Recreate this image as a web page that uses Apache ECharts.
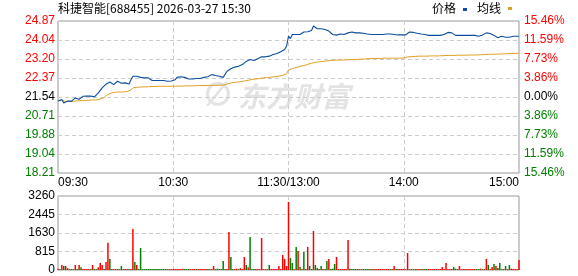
<!DOCTYPE html>
<html>
<head>
<meta charset="utf-8">
<script src="https://cdn.jsdelivr.net/npm/echarts@6/dist/echarts.min.js"></script>
<style>
html,body{margin:0;padding:0;background:#fff;}
#c{width:578px;height:276px;}
</style>
</head>
<body>
<div id="c"></div>
<script>
// ---- data ----
var title = '科捷智能[688455] 2026-03-27 15:30';
var legendNames = ['价格', '均线'];
var timeLabels = ['09:30', '10:30', '11:30/13:00', '14:00', '15:00'];
var priceTicks = ['18.21','19.04','19.88','20.71','21.54','22.37','23.20','24.04','24.87'];
var pctTicks = ['15.46%','11.59%','7.73%','3.86%','0.00%','3.86%','7.73%','11.59%','15.46%'];
var volTicks = ['0','815','1630','2445','3260'];
var basePrice = 21.54;
var priceMin = 18.21, priceMax = 24.87;
var pctMax = 15.46;
var volMax = 3260;

var price = [
21.36,21.40,21.43,21.28,21.30,21.36,21.35,21.36,21.39,21.50,
21.46,21.44,21.48,21.57,21.57,21.58,21.60,21.58,21.60,21.55,
21.52,21.72,21.75,21.94,21.96,22.10,22.16,22.20,22.23,22.08,
22.15,22.23,22.18,22.14,22.10,22.16,22.20,22.11,22.30,22.45,
22.45,22.45,22.43,22.40,22.38,22.38,22.38,22.38,22.33,22.26,
22.26,22.26,22.26,22.26,22.26,22.26,22.24,22.23,22.23,22.24,
22.25,22.30,22.40,22.42,22.43,22.45,22.40,22.36,22.33,22.33,
22.33,22.35,22.35,22.33,22.35,22.38,22.40,22.45,22.43,22.45,
22.52,22.50,22.48,22.45,22.45,22.43,22.40,22.40,22.67,22.70,
22.78,22.82,22.85,22.89,22.89,22.92,22.96,23.00,23.10,23.18,
23.18,23.16,23.14,23.14,23.22,23.30,23.30,23.32,23.30,23.33,
23.33,23.37,23.40,23.45,23.45,23.48,23.52,23.58,23.62,23.77,
24.21,
24.10,24.28,24.26,24.28,24.28,24.28,24.33,24.39,24.37,
24.40,24.43,24.45,24.65,24.58,24.53,24.53,24.53,24.53,24.50,
24.47,24.43,24.38,24.28,24.21,24.25,24.32,24.30,24.30,24.28,
24.28,24.35,24.43,24.39,24.37,24.35,24.37,24.35,24.35,24.33,
24.30,24.30,24.28,24.28,24.25,24.28,24.28,24.28,24.28,24.28,
24.28,24.30,24.35,24.30,24.35,24.28,24.24,24.26,24.26,24.26,
24.26,24.26,24.24,24.39,24.33,24.37,24.33,24.33,24.33,24.30,
24.30,24.28,24.24,24.24,24.24,24.24,24.24,24.24,24.24,24.24,
24.24,24.28,24.33,24.37,24.37,24.35,24.33,24.24,24.24,24.24,
24.24,24.24,24.24,24.24,24.24,24.24,24.24,24.24,24.22,24.20,
24.22,24.26,24.30,24.35,24.30,24.32,24.30,24.24,24.24,24.14,
24.16,24.20,24.16,24.16,24.18,24.16,24.20,24.20,24.20,24.20,24.20
];

var avgPrice = [
21.36,21.38,21.40,21.36,21.34,21.34,21.34,21.34,21.35,21.36,
21.37,21.37,21.38,21.38,21.39,21.39,21.40,21.40,21.41,21.41,
21.41,21.43,21.45,21.48,21.52,21.57,21.66,21.70,21.72,21.74,
21.75,21.75,21.76,21.76,21.76,21.77,21.78,21.79,21.85,21.94,
21.95,21.96,21.97,21.98,21.98,21.98,21.99,21.99,21.99,22.00,
22.00,22.00,22.00,22.01,22.01,22.01,22.01,22.01,22.01,22.01,
22.01,22.01,22.02,22.02,22.02,22.02,22.02,22.03,22.03,22.03,
22.03,22.03,22.03,22.04,22.04,22.04,22.04,22.04,22.04,22.05,
22.05,22.05,22.05,22.05,22.06,22.06,22.07,22.07,22.11,22.14,
22.16,22.17,22.18,22.19,22.20,22.21,22.22,22.24,22.25,22.27,
22.30,22.31,22.32,22.33,22.34,22.35,22.37,22.38,22.38,22.39,
22.40,22.41,22.42,22.43,22.44,22.45,22.47,22.49,22.52,22.56,
22.72,
22.76,22.79,22.81,22.83,22.86,22.88,22.90,22.92,22.94,
22.97,23.00,23.02,23.04,23.06,23.07,23.08,23.09,23.10,23.11,
23.12,23.13,23.14,23.14,23.15,23.15,23.16,23.16,23.16,23.17,
23.17,23.17,23.18,23.18,23.18,23.19,23.19,23.19,23.20,23.20,
23.21,23.21,23.22,23.22,23.23,23.23,23.23,23.23,23.23,23.23,
23.24,23.24,23.24,23.24,23.24,23.24,23.24,23.24,23.24,23.24,
23.25,23.26,23.30,23.31,23.31,23.32,23.32,23.32,23.33,23.33,
23.33,23.33,23.33,23.34,23.34,23.34,23.34,23.34,23.34,23.35,
23.35,23.35,23.36,23.36,23.36,23.36,23.36,23.36,23.37,23.37,
23.37,23.37,23.37,23.37,23.38,23.38,23.38,23.38,23.38,23.38,
23.39,23.39,23.40,23.40,23.41,23.41,23.41,23.42,23.42,23.42,
23.42,23.43,23.43,23.43,23.44,23.45,23.45,23.45,23.45,23.45,23.46
];

var volume = [
50,40,220,176,176,80,40,40,40,220,
40,220,117,40,40,40,40,40,220,40,
40,120,308,220,40,352,1204,484,40,40,
40,40,40,176,40,40,40,40,40,1805,
352,220,40,969,40,40,40,40,40,40,
40,40,40,40,40,40,40,40,40,40,
40,40,40,40,40,60,40,40,40,40,
40,40,40,40,40,40,40,40,40,40,
40,176,40,60,40,40,396,40,40,1673,
572,40,40,60,40,80,40,572,220,120,
1453,40,40,40,40,40,1409,40,40,40,
220,40,40,40,40,176,40,660,484,176,
2995,
528,308,40,1013,837,132,40,793,40,
1013,176,40,1717,220,88,40,176,40,40,
396,484,40,60,264,572,40,40,40,40,
40,1321,60,40,40,40,40,40,40,40,
40,40,40,40,40,40,40,40,40,40,
40,40,40,40,40,176,40,40,40,40,
40,40,748,40,40,40,40,40,40,40,
40,40,40,40,40,40,40,40,40,40,
132,40,308,40,40,40,132,60,40,176,
40,40,40,40,40,40,40,40,40,40,
60,40,40,484,220,40,132,264,176,88,
308,40,40,176,40,220,60,40,40,40,440
];

// u = up (red), d = down (green)
var volDir = [
'u','d','u','d','u','u','d','d','d','u',
'd','u','d','u','u','u','u','d','u','d',
'd','u','u','u','d','u','u','d','u','d',
'u','u','d','d','d','u','u','d','u','u',
'd','u','d','d','d','d','d','d','d','d',
'd','d','d','d','d','d','d','d','u','u',
'u','u','u','u','u','u','d','d','d','u',
'u','u','d','u','u','u','u','u','d','u',
'u','u','d','d','d','d','d','d','u','u',
'd','d','u','u','d','u','u','u','d','u',
'd','d','d','u','u','u','u','u','d','u',
'd','u','u','u','u','u','u','u','u','u',
'u',
'd','d','u','d','u','d','u','d','u',
'u','d','d','u','d','d','u','d','u','d',
'd','u','d','d','d','u','u','u','u','u',
'u','u','d','d','d','d','u','d','u','d',
'd','d','d','u','d','u','u','u','u','u',
'u','u','u','d','u','u','d','u','u','u',
'u','u','u','d','d','u','d','u','u','d',
'u','d','d','u','u','u','u','u','u','u',
'u','u','u','u','u','d','d','d','u','u',
'u','u','u','u','u','u','u','u','d','d',
'u','d','u','u','d','u','u','d','u','d',
'd','u','d','d','u','d','u','u','u','u','u'
];

// ---- chart ----
var RED = '#ff0000', GREEN = '#008000', BLUE = '#0b4d9e', ORANGE = '#e0a020';
var FONT = '"Liberation Sans", Arial, sans-serif';
var CJK = '"Noto Sans CJK SC", sans-serif';

var priceData = price.map(function (v, i) { return [i, v]; });
var avgData = avgPrice.map(function (v, i) { return [i, v]; });
var volData = volume.map(function (v, i) {
  return { value: [i, v], itemStyle: { color: volDir[i] === 'u' ? RED : GREEN } };
});

var dashed = { show: true, lineStyle: { color: '#cccccc', type: [4, 3], width: 1 } };

var chart = echarts.init(document.getElementById('c'), null, { renderer: 'canvas' });
chart.setOption({
  animation: false,
  backgroundColor: '#ffffff',
  graphic: [
    { type: 'text', left: 58, top: 2, z: 10,
      style: { text: title, font: '12px ' + CJK, fill: '#000' } },
    { type: 'text', left: 432, top: 2, z: 10,
      style: { text: legendNames[0], font: '12px ' + CJK, fill: '#000' } },
    { type: 'rect', left: 463, top: 8, z: 10, shape: { width: 4, height: 3 }, style: { fill: BLUE } },
    { type: 'text', left: 477, top: 2, z: 10,
      style: { text: legendNames[1], font: '12px ' + CJK, fill: '#000' } },
    { type: 'rect', left: 508, top: 7, z: 10, shape: { width: 4, height: 3 }, style: { fill: ORANGE } },
    { type: 'text', left: 238, top: 82, z: 0,
      style: { text: '东方财富', font: 'italic bold 28px ' + CJK, fill: '#e3e3e3' } },
    { type: 'text', left: 204, top: 80, z: 0,
      style: { text: '∅', font: 'bold 32px ' + FONT, fill: '#e3e3e3' } }
  ],
  grid: [
    { left: 58, top: 21, width: 461, height: 152, show: true, borderColor: '#999999', borderWidth: 1, backgroundColor: 'transparent' },
    { left: 58, top: 196, width: 461, height: 74, show: true, borderColor: '#999999', borderWidth: 1, backgroundColor: 'transparent' }
  ],
  xAxis: [
    { type: 'value', gridIndex: 0, min: 0, max: 240, interval: 60,
      axisLine: { show: false }, axisTick: { show: false },
      splitLine: dashed,
      axisLabel: { show: true, margin: 4, fontFamily: FONT, fontSize: 12, color: '#000',
        alignMinLabel: 'left', alignMaxLabel: 'right',
        formatter: function (v) { return timeLabels[Math.round(v / 60)]; } } },
    { type: 'value', gridIndex: 1, min: 0, max: 240, interval: 60,
      axisLine: { show: false }, axisTick: { show: false },
      splitLine: dashed, axisLabel: { show: false } }
  ],
  yAxis: [
    { type: 'value', gridIndex: 0, min: priceMin, max: priceMax, interval: (priceMax - priceMin) / 8,
      axisLine: { show: false }, axisTick: { show: false }, splitLine: dashed,
      axisLabel: { margin: 3, fontFamily: FONT, fontSize: 12,
        formatter: function (v, i) { return priceTicks[i]; },
        color: function (v) { v = parseFloat(v); return v > basePrice + 0.005 ? RED : (v < basePrice - 0.005 ? GREEN : '#000'); } } },
    { type: 'value', gridIndex: 0, position: 'right', min: -pctMax, max: pctMax, interval: pctMax / 4,
      axisLine: { show: false }, axisTick: { show: false }, splitLine: { show: false },
      axisLabel: { margin: 5, fontFamily: FONT, fontSize: 12,
        formatter: function (v, i) { return pctTicks[i]; },
        color: function (v) { v = parseFloat(v); return v > 0.001 ? RED : (v < -0.001 ? GREEN : '#000'); } } },
    { type: 'value', gridIndex: 1, min: 0, max: volMax, interval: volMax / 4,
      axisLine: { show: false }, axisTick: { show: false }, splitLine: dashed,
      axisLabel: { margin: 3, fontFamily: FONT, fontSize: 12, color: '#000',
        formatter: function (v, i) { return volTicks[i]; } } }
  ],
  series: [
    { name: legendNames[1], type: 'line', xAxisIndex: 0, yAxisIndex: 0, data: avgData,
      showSymbol: false, lineStyle: { color: ORANGE, width: 1 }, z: 3 },
    { name: legendNames[0], type: 'line', xAxisIndex: 0, yAxisIndex: 0, data: priceData,
      showSymbol: false, lineStyle: { color: BLUE, width: 1.1 }, z: 4 },
    { name: '成交量', type: 'bar', xAxisIndex: 1, yAxisIndex: 2, data: volData,
      barWidth: 1.5, z: 3 }
  ]
});
</script>
</body>
</html>
